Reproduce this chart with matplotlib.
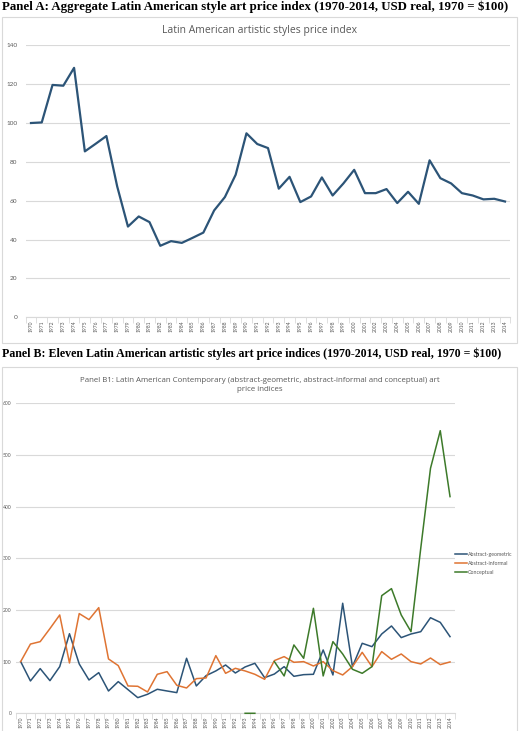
import numpy as np
import matplotlib
matplotlib.use("Agg")
from matplotlib import pyplot as plt
from matplotlib.patches import Rectangle

years = list(range(1970, 2015))

# Panel A: aggregate index
aggregate = [100, 100.3, 119.6, 119.2, 128.4, 85.4, 89.3, 93.3, 67.4, 46.7,
             51.9, 49.0, 36.8, 39.2, 38.3, 40.9, 43.6, 55.0, 61.9, 73.4,
             94.7, 89.2, 87.1, 66.2, 72.3, 59.3, 62.2, 72.0, 62.7, 68.9,
             75.9, 63.9, 63.9, 66.0, 58.8, 64.6, 58.4, 80.8, 71.6, 68.9,
             63.9, 62.7, 60.7, 61.0, 59.6]

# Panel B1
abstract_geometric = [100, 62.6, 86.5, 63.2, 90.3, 154, 95.5, 64.5, 78.7, 43.2,
                      61.3, 45.8, 30.3, 36.8, 46.5, 43.2, 40.0, 106.5, 52.9, 72.9,
                      82.0, 93.5, 78.0, 89.7, 96.8, 69.0, 76.0, 90.3, 71.6, 74.8,
                      75.5, 122.6, 74.2, 213, 90.3, 135.5, 129, 153.5, 169, 146.5,
                      153.5, 158, 185, 176, 148.4]
abstract_informal = [100, 134, 138.7, 164, 190.3, 97.4, 193, 181.3, 204.5, 105.2,
                     92.3, 52.9, 52.3, 41.3, 75.5, 80.6, 54.2, 49.0, 67.1, 68.4,
                     111.6, 77.4, 87.1, 82.0, 75.5, 65.8, 102, 109.7, 98.7, 100,
                     91.6, 100, 82.6, 74.2, 90.3, 118, 90.3, 119.4, 104.5, 114.8,
                     100, 95.5, 107, 94.2, 99.4]
conceptual = [np.nan] * 23 + [0, 0, np.nan,
              100, 72.3, 132.3, 106.5, 203.2, 72.3, 138.7, 114.8, 85.2, 77.4,
              90.3, 227.7, 241.3, 190.3, 158, 319.4, 474.2, 547, 419.4]

W, H = 520, 731
fig = plt.figure(figsize=(W / 100, H / 100), dpi=100)


def box(x0, y0, x1, y1):
    return [x0 / W, 1 - y1 / H, (x1 - x0) / W, (y1 - y0) / H]


def frame(x0, y0, x1, y1):
    fig.patches.append(Rectangle((x0 / W, 1 - y1 / H), (x1 - x0) / W, (y1 - y0) / H,
                                 transform=fig.transFigure, fill=False,
                                 edgecolor="#d9d9d9", linewidth=0.8))


def style(ax, ymax, step, ysize, ypad):
    x = np.arange(len(years))
    ax.set_xlim(-0.5, len(years) - 0.5)
    ax.set_ylim(0, ymax)
    ax.set_yticks(np.arange(0, ymax + 1, step))
    ax.set_xticks(x)
    ax.set_xticklabels([str(y) for y in years], rotation=90, fontsize=3.6,
                       color="#595959", family="Lato")
    ax.set_xticks(np.arange(-0.5, len(years), 1), minor=True)
    ax.tick_params(axis="x", which="major", length=0, pad=2)
    ax.tick_params(axis="x", which="minor", length=4, color="#d9d9d9", width=0.6)
    ax.tick_params(axis="y", length=0, labelsize=ysize, labelcolor="#595959", pad=ypad)
    for lab in ax.get_yticklabels():
        lab.set_family("Lato")
    for s in ["top", "right", "left"]:
        ax.spines[s].set_visible(False)
    ax.spines["bottom"].set_color("#d9d9d9")
    ax.spines["bottom"].set_linewidth(0.8)
    ax.grid(axis="y", color="#d9d9d9", linewidth=0.8)
    ax.set_axisbelow(True)


# headers
fig.text(2 / W, 1 - 7 / H, "Panel A: Aggregate Latin American style art price index (1970-2014, USD real, 1970 = $100)",
         family="Liberation Serif", weight="bold", fontsize=9.3, va="center", ha="left")
fig.text(2 / W, 1 - 354 / H, "Panel B: Eleven Latin American artistic styles art price indices (1970-2014, USD real, 1970 = $100)",
         family="Liberation Serif", weight="bold", fontsize=8.6, va="center", ha="left")

frame(2, 17, 517, 343)
frame(2, 367, 517, 740)

# Panel A
ax1 = fig.add_axes(box(25.6, 45.3, 510.4, 317.3))
style(ax1, 140, 20, 4.6, 6)
ax1.plot(np.arange(len(years)), aggregate, color="#2c5477", linewidth=1.6)
fig.text(260 / W, 1 - 30 / H, "Latin American artistic styles price index",
         family="Open Sans", fontsize=7.5, color="#595959", ha="center", va="center")

# Panel B1
ax2 = fig.add_axes(box(15.8, 403.3, 454.9, 713.3))
style(ax2, 600, 100, 3.6, 3)
x = np.arange(len(years))
ax2.plot(x, abstract_geometric, color="#2c5477", linewidth=1.1, label="Abstract-geometric")
ax2.plot(x, abstract_informal, color="#df7433", linewidth=1.1, label="Abstract-informal")
ax2.plot(x, conceptual, color="#3d7a2a", linewidth=1.1, label="Conceptual",
         clip_on=False, zorder=3)
fig.text(260 / W, 1 - 385 / H,
         "Panel B1: Latin American Contemporary (abstract-geometric, abstract-informal and conceptual) art\nprice indices",
         family="Open Sans", fontsize=5.7, color="#595959", ha="center", va="center",
         linespacing=1.4)
leg = ax2.legend(loc="center left", bbox_to_anchor=(455 / W, 1 - 563.5 / H),
                 bbox_transform=fig.transFigure, frameon=False, fontsize=3.8,
                 handlelength=2.2, handletextpad=0.2, labelspacing=0.7, borderpad=0,
                 borderaxespad=0)
for t in leg.get_texts():
    t.set_color("#595959")
    t.set_family("Lato")

fig.savefig("out.png", dpi=100)
